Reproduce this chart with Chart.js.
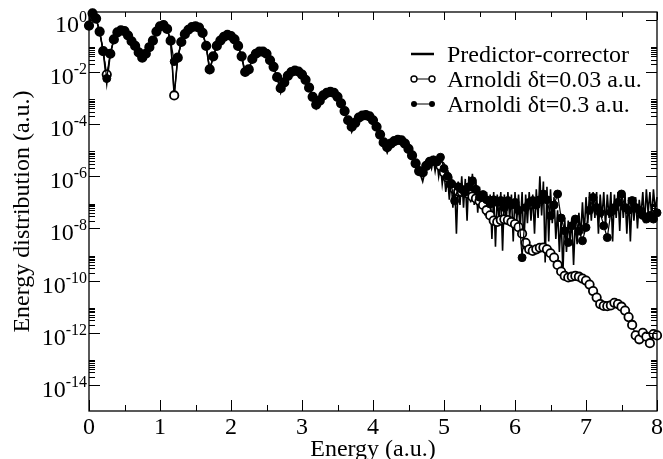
<!DOCTYPE html>
<html><head><meta charset="utf-8">
<script src="https://cdn.jsdelivr.net/npm/chart.js@4/dist/chart.umd.min.js"></script>
<style>html,body{margin:0;padding:0;background:#fff}</style>
</head><body>
<canvas id="c" width="663" height="459"></canvas>
<script>
// ---- data (values stored as log10 of the energy distribution) ----
const energy = [0,0.05,0.1,0.15,0.2,0.25,0.3,0.35,0.4,0.45,0.5,0.55,0.6,0.65,0.7,0.75,0.8,0.85,0.9,0.95,
1,1.05,1.1,1.15,1.2,1.25,1.3,1.35,1.4,1.45,1.5,1.55,1.6,1.65,1.7,1.75,1.8,1.85,1.9,1.95,
2,2.05,2.1,2.15,2.2,2.25,2.3,2.35,2.4,2.45,2.5,2.55,2.6,2.65,2.7,2.75,2.8,2.85,2.9,2.95,
3,3.05,3.1,3.15,3.2,3.25,3.3,3.35,3.4,3.45,3.5,3.55,3.6,3.65,3.7,3.75,3.8,3.85,3.9,3.95,
4,4.05,4.1,4.15,4.2,4.25,4.3,4.35,4.4,4.45,4.5,4.55,4.6,4.65,4.7,4.75,4.8,4.85,4.9,4.95,
5,5.05,5.1,5.15,5.2,5.25,5.3,5.35,5.4,5.45,5.5,5.55,5.6,5.65,5.7,5.75,5.8,5.85,5.9,5.95,
6,6.05,6.1,6.15,6.2,6.25,6.3,6.35,6.4,6.45,6.5,6.55,6.6,6.65,6.7,6.75,6.8,6.85,6.9,6.95,
7,7.05,7.1,7.15,7.2,7.25,7.3,7.35,7.4,7.45,7.5,7.55,7.6,7.65,7.7,7.75,7.8,7.85,7.9,7.95,8];

const arnoldiFineExp = [-0.22,0.25,0.05,-0.45,-1.2,-2.1,-1.3,-0.75,-0.48,-0.4,-0.43,-0.6,-0.82,-1.0,-1.25,-1.45,-1.3,-1.05,-0.8,-0.45,
-0.25,-0.2,-0.35,-0.8,-2.9,-1.45,-0.85,-0.55,-0.38,-0.28,-0.25,-0.3,-0.5,-1.0,-1.9,-1.4,-1.0,-0.8,-0.65,-0.58,
-0.62,-0.75,-1.0,-1.4,-2.0,-1.9,-1.5,-1.3,-1.22,-1.22,-1.3,-1.55,-1.8,-2.2,-2.62,-2.4,-2.15,-2.0,-1.95,-1.98,
-2.1,-2.3,-2.6,-2.95,-3.25,-3.1,-2.9,-2.8,-2.76,-2.8,-2.95,-3.2,-3.5,-3.85,-4.1,-3.95,-3.75,-3.67,-3.65,-3.7,
-3.85,-4.1,-4.4,-4.7,-4.88,-4.75,-4.65,-4.6,-4.62,-4.75,-4.95,-5.2,-5.5,-5.8,-5.85,-5.6,-5.45,-5.4,-5.45,-5.6,
-5.85,-6.05,-6.3,-6.5,-6.58,-6.6,-6.62,-6.68,-6.78,-6.85,-6.95,-7.1,-7.3,-7.5,-7.7,-7.75,-7.68,-7.65,-7.68,-7.75,
-7.83,-7.95,-8.2,-8.55,-8.8,-8.86,-8.8,-8.74,-8.73,-8.8,-8.95,-9.12,-9.4,-9.65,-9.82,-9.88,-9.85,-9.82,-9.85,-9.92,
-10.0,-10.15,-10.4,-10.65,-10.9,-10.97,-10.98,-10.95,-10.85,-10.9,-11.0,-11.15,-11.4,-11.7,-12.1,-12.25,-12.0,-12.15,-12.4,-12.05,
-12.1];

const arnoldiCoarseExp = [-0.22,0.25,0.05,-0.45,-1.2,-2.25,-1.3,-0.75,-0.48,-0.4,-0.43,-0.6,-0.82,-1.0,-1.25,-1.45,-1.3,-1.05,-0.8,-0.45,
-0.25,-0.2,-0.35,-0.8,-1.6,-1.45,-0.85,-0.55,-0.38,-0.28,-0.25,-0.3,-0.5,-1.0,-1.9,-1.4,-1.0,-0.8,-0.65,-0.58,
-0.62,-0.75,-1.0,-1.4,-2.0,-1.9,-1.5,-1.3,-1.22,-1.22,-1.3,-1.55,-1.8,-2.2,-2.62,-2.4,-2.15,-2.0,-1.95,-1.98,
-2.1,-2.3,-2.6,-2.95,-3.25,-3.1,-2.9,-2.8,-2.76,-2.8,-2.95,-3.2,-3.5,-3.85,-4.1,-3.95,-3.75,-3.67,-3.65,-3.7,
-3.85,-4.1,-4.4,-4.7,-4.88,-4.75,-4.65,-4.6,-4.62,-4.75,-4.95,-5.2,-5.5,-5.8,-5.85,-5.6,-5.45,-5.4,-5.45,-5.27,
-5.7,-6.0,-6.3,-6.94,-6.4,-6.5,-6.6,-6.4,-6.17,-6.5,-6.8,-6.7,-6.9,-7.06,-6.9,-7.0,-6.93,-7.2,-6.93,-7.1,
-7.0,-7.3,-9.12,-7.2,-7.0,-6.93,-7.1,-6.9,-6.68,-6.9,-7.51,-7.1,-6.68,-7.6,-8.09,-8.54,-7.9,-7.64,-8.1,-8.47,
-7.96,-7.3,-6.81,-7.2,-7.4,-7.9,-8.35,-7.38,-7.2,-7.0,-6.68,-7.2,-7.3,-6.93,-7.2,-7.3,-7.5,-7.64,-7.5,-7.64,
-7.4];

const pcEnergy = [0,0.05,0.1,0.15,0.2,0.25,0.3,0.35,0.4,0.45,0.5,0.55,0.6,0.65,0.7,0.75,0.8,0.85,0.9,0.95,
1,1.05,1.1,1.15,1.2,1.25,1.3,1.35,1.4,1.45,1.5,1.55,1.6,1.65,1.7,1.75,1.8,1.85,1.9,1.95,
2,2.05,2.1,2.15,2.2,2.25,2.3,2.35,2.4,2.45,2.5,2.55,2.6,2.65,2.7,2.75,2.8,2.85,2.9,2.95,
3,3.05,3.1,3.15,3.2,3.25,3.3,3.35,3.4,3.45,3.5,3.55,3.6,3.65,3.7,3.75,3.8,3.85,3.9,3.95,
4,4.05,4.1,4.15,4.2,4.25,4.3,4.35,4.4,4.45,4.5,4.55,4.6,4.65,4.7,4.75,
4.8,4.825,4.85,4.875,4.9,4.925,4.95,4.975,5,5.025,5.05,5.075,5.1,5.125,5.15,5.175,
5.2,5.225,5.25,5.275,5.3,5.325,5.35,5.375,5.4,5.425,5.45,5.475,5.5,5.525,5.55,5.575,
5.6,5.625,5.65,5.675,5.7,5.725,5.75,5.775,5.8,5.825,5.85,5.875,5.9,5.925,5.95,5.975,
6,6.025,6.05,6.075,6.1,6.125,6.15,6.175,6.2,6.225,6.25,6.275,6.3,6.325,6.35,6.375,
6.4,6.425,6.45,6.475,6.5,6.525,6.55,6.575,6.6,6.625,6.65,6.675,6.7,6.725,6.75,6.775,
6.8,6.825,6.85,6.875,6.9,6.925,6.95,6.975,7,7.025,7.05,7.075,7.1,7.125,7.15,7.175,
7.2,7.225,7.25,7.275,7.3,7.325,7.35,7.375,7.4,7.425,7.45,7.475,7.5,7.525,7.55,7.575,
7.6,7.625,7.65,7.675,7.7,7.725,7.75,7.775,7.8,7.825,7.85,7.875,7.9,7.925,7.95,7.975,8];

const pcExp = [-0.22,0.25,0.05,-0.45,-1.2,-2.45,-1.3,-0.75,-0.48,-0.4,-0.43,-0.6,-0.82,-1.0,-1.25,-1.45,-1.3,-1.05,-0.8,-0.45,
-0.25,-0.2,-0.35,-0.8,-2.9,-1.45,-0.85,-0.55,-0.38,-0.28,-0.25,-0.3,-0.5,-1.0,-1.95,-1.4,-1.0,-0.8,-0.65,-0.58,
-0.62,-0.75,-1.0,-1.4,-2.1,-1.9,-1.5,-1.3,-1.22,-1.22,-1.3,-1.55,-1.8,-2.2,-2.8,-2.4,-2.15,-2.0,-1.95,-1.98,
-2.1,-2.3,-2.6,-2.95,-3.4,-3.1,-2.9,-2.8,-2.76,-2.8,-2.95,-3.2,-3.5,-3.85,-4.3,-3.95,-3.75,-3.67,-3.65,-3.7,
-3.85,-4.1,-4.4,-4.7,-5.1,-4.75,-4.65,-4.6,-4.62,-4.75,-4.95,-5.2,-5.5,-5.8,-6.2,-5.6,
-5.45,-5.7,-5.35,-5.8,-5.4,-6.0,-5.55,-6.3,-5.8,-6.6,-6.0,-6.9,-6.1,-7.2,-6.2,-8.2,
-6.2,-7.1,-6.0,-7.2,-6.1,-7.7,-6.0,-7.0,-5.9,-7.1,-6.2,-7.4,-6.4,-7.2,-6.6,-7.5,
-6.6,-7.6,-6.7,-8.4,-6.6,-8.7,-6.7,-7.7,-6.6,-8.85,-6.7,-7.8,-6.6,-7.6,-6.7,-8.5,
-6.6,-7.7,-6.7,-7.9,-6.6,-8.8,-6.7,-7.8,-6.6,-7.7,-6.7,-8.2,-6.5,-7.6,-6.0,-7.5,
-6.2,-9.3,-6.4,-8.5,-6.5,-7.8,-6.8,-8.4,-7.3,-8.9,-7.6,-9.7,-7.6,-8.9,-7.7,-8.5,
-7.6,-9.4,-7.7,-8.6,-7.4,-8.3,-7.0,-8.2,-6.8,-7.8,-6.6,-7.7,-6.6,-7.6,-6.6,-8.2,
-6.7,-7.6,-6.6,-7.9,-6.7,-7.6,-6.6,-8.5,-6.7,-7.6,-6.6,-8.1,-6.6,-7.6,-6.7,-8.2,
-6.8,-8.5,-6.8,-7.7,-6.8,-8.0,-6.9,-7.5,-6.6,-7.8,-6.5,-7.4,-6.6,-7.6,-6.5,-7.3,-6.8];

const xTickValues = [0,1,2,3,4,5,6,7,8];
const yTickExponents = [0,-2,-4,-6,-8,-10,-12,-14];
const seriesNames = ['Predictor-corrector','Arnoldi \u03b4t=0.03 a.u.','Arnoldi \u03b4t=0.3 a.u.'];
const xTitle = 'Energy (a.u.)';
const yTitle = 'Energy distribution (a.u.)';

// ---- build ----
function toPoints(xs, es){ return xs.map((x,i)=>({x:x, y:Math.pow(10, es[i])})); }
const FONT = '"Liberation Serif", "Times New Roman", serif';

const axesPlugin = {
  id: 'graceAxes',
  afterDraw(chart){
    const ctx = chart.ctx, a = chart.chartArea, xs = chart.scales.x, ys = chart.scales.y;
    ctx.save();
    ctx.strokeStyle = '#000';
    ctx.lineWidth = 1.3;
    ctx.strokeRect(a.left, a.top, a.right - a.left, a.bottom - a.top);
    ctx.lineWidth = 1;
    ctx.beginPath();
    xTickValues.forEach((v, i) => {
      const px = Math.round(xs.getPixelForValue(v)) + 0.5;
      ctx.moveTo(px, a.bottom); ctx.lineTo(px, a.bottom - 11);
      ctx.moveTo(px, a.top); ctx.lineTo(px, a.top + 8);
      if (i < xTickValues.length - 1) {
        const mx = Math.round(xs.getPixelForValue((v + xTickValues[i+1]) / 2)) + 0.5;
        ctx.moveTo(mx, a.bottom); ctx.lineTo(mx, a.bottom - 6);
        ctx.moveTo(mx, a.top); ctx.lineTo(mx, a.top + 5);
      }
    });
    yTickExponents.forEach(e => {
      const base = Math.pow(10, e);
      const py = Math.round(ys.getPixelForValue(base)) + 0.5;
      ctx.moveTo(a.left, py); ctx.lineTo(a.left + 11, py);
      ctx.moveTo(a.right, py); ctx.lineTo(a.right - 11, py);
      for (let k = 2; k <= 9; k++) {
        const v = k * base;
        if (v >= ys.max) continue;
        const my = Math.round(ys.getPixelForValue(v)) + 0.5;
        ctx.moveTo(a.left, my); ctx.lineTo(a.left + 6, my);
        ctx.moveTo(a.right, my); ctx.lineTo(a.right - 6, my);
      }
    });
    ctx.stroke();

    ctx.fillStyle = '#000';
    ctx.textBaseline = 'alphabetic';
    ctx.font = '24px ' + FONT;
    ctx.textAlign = 'center';
    xTickValues.forEach(v => ctx.fillText(String(v), xs.getPixelForValue(v), 434));

    ctx.textAlign = 'left';
    yTickExponents.forEach(e => {
      const py = ys.getPixelForValue(Math.pow(10, e));
      const expStr = String(e);
      ctx.font = '16px ' + FONT;
      const ew = ctx.measureText(expStr).width;
      ctx.font = '24px ' + FONT;
      const bw = ctx.measureText('10').width;
      const right = 87;
      ctx.fillText('10', right - ew - bw, py + 12);
      ctx.font = '16px ' + FONT;
      ctx.fillText(expStr, right - ew, py + 2);
    });

    ctx.font = '24px ' + FONT;
    ctx.textAlign = 'center';
    ctx.fillText(xTitle, (a.left + a.right) / 2, 456);
    ctx.save();
    ctx.translate(29, (a.top + a.bottom) / 2);
    ctx.rotate(-Math.PI / 2);
    ctx.fillText(yTitle, 0, 0);
    ctx.restore();

    const lx1 = 414, lx2 = 432, tx = 447;
    const rows = [54, 79, 104];
    ctx.textAlign = 'left';
    ctx.font = '24px ' + FONT;
    ctx.lineWidth = 2.5;
    ctx.beginPath(); ctx.moveTo(411, rows[0]); ctx.lineTo(434, rows[0]); ctx.stroke();
    ctx.lineWidth = 1;
    ctx.beginPath(); ctx.moveTo(lx1, rows[1]); ctx.lineTo(lx2, rows[1]); ctx.stroke();
    ctx.lineWidth = 1.4;
    [lx1, lx2].forEach(x => { ctx.beginPath(); ctx.arc(x, rows[1], 3, 0, Math.PI*2); ctx.fillStyle='#fff'; ctx.fill(); ctx.stroke(); });
    ctx.lineWidth = 1;
    ctx.beginPath(); ctx.moveTo(lx1, rows[2]); ctx.lineTo(lx2, rows[2]); ctx.stroke();
    ctx.fillStyle = '#000';
    [lx1, lx2].forEach(x => { ctx.beginPath(); ctx.arc(x, rows[2], 3, 0, Math.PI*2); ctx.fill(); });
    seriesNames.forEach((s, i) => ctx.fillText(s, tx, rows[i] + 8));
    ctx.restore();
  }
};

new Chart(document.getElementById('c'), {
  type: 'line',
  data: {
    datasets: [
      { label: seriesNames[0], data: toPoints(pcEnergy, pcExp), borderColor: '#000', borderWidth: 1.6,
        pointRadius: 0, fill: false, order: 3, clip: false, tension: 0 },
      { label: seriesNames[1], data: toPoints(energy, arnoldiFineExp), borderColor: '#000', borderWidth: 1.2,
        pointRadius: 4.2, pointBorderWidth: 1.8, pointBackgroundColor: '#fff', pointBorderColor: '#000',
        fill: false, order: 2, clip: false, tension: 0 },
      { label: seriesNames[2], data: toPoints(energy, arnoldiCoarseExp), borderColor: '#000', borderWidth: 1.2,
        pointRadius: 4, pointBorderWidth: 1, pointBackgroundColor: '#000', pointBorderColor: '#000',
        fill: false, order: 1, clip: false, tension: 0 }
    ]
  },
  options: {
    responsive: false,
    animation: false,
    events: [],
    devicePixelRatio: 1,
    layout: { padding: { left: 89, right: 5, top: 12, bottom: 48 } },
    plugins: { legend: { display: false }, tooltip: { enabled: false } },
    scales: {
      x: { type: 'linear', min: 0, max: 8, display: false },
      y: { type: 'logarithmic', min: 1e-15, max: 2, display: false }
    }
  },
  plugins: [axesPlugin]
});
</script>
</body></html>
